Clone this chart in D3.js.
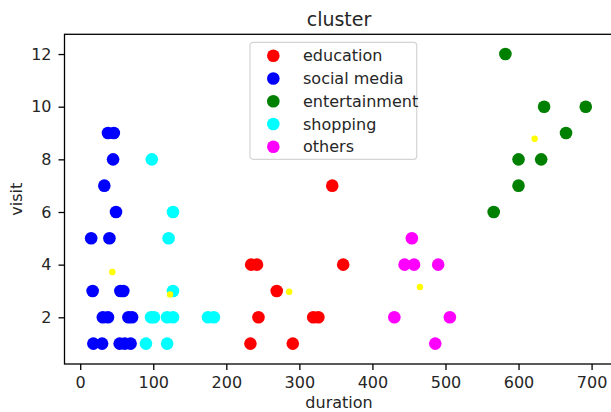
<!DOCTYPE html>
<html>
<head>
<meta charset="utf-8">
<script src="https://cdn.jsdelivr.net/npm/d3@7"></script>
<style>
  body { margin: 0; background: #fff; }
  svg { display: block; font-family: 'DejaVu Sans', sans-serif; }
</style>
</head>
<body>
<svg id="chart"></svg>
<script>
// cluster names and their colours, in legend order
const categories = ['education', 'social media', 'entertainment', 'shopping', 'others'];
const colors = ['#ff0000', '#0000ff', '#008000', '#00ffff', '#ff00ff'];

// [duration, visit]
const education = [[345, 7], [234, 4], [242, 4], [360, 4], [269, 3], [244, 2], [319, 2], [326, 2], [233, 1], [291, 1]];
const socialMedia = [[38, 9], [46, 9], [45, 8], [33, 7], [49, 6], [15, 5], [40, 5], [17, 3], [55, 3], [59, 3],
  [31, 2], [38, 2], [66, 2], [71, 2], [18, 1], [30, 1], [54, 1], [61, 1], [69, 1]];
const entertainment = [[582, 12], [635, 10], [692, 10], [665, 9], [600, 8], [631, 8], [600, 7], [566, 6]];
const shopping = [[98, 8], [127, 6], [121, 5], [127, 3], [97, 2], [101, 2], [119, 2], [127, 2], [175, 2], [183, 2], [90, 1], [119, 1]];
const others = [[454, 5], [444, 4], [457, 4], [490, 4], [430, 2], [506, 2], [486, 1]];
// cluster centres (yellow)
const centroids = [[286, 2.97], [44, 3.72], [622, 8.78], [123, 2.87], [465, 3.15]];

const xTicks = [0, 100, 200, 300, 400, 500, 600, 700];
const yTicks = [2, 4, 6, 8, 10, 12];

const clusters = [education, socialMedia, entertainment, shopping, others];

const width = 611;
const height = 412;
const margin = { top: 34.3, left: 64.5, bottom: 48 };
const innerWidth = 549;
const innerHeight = height - margin.top - margin.bottom;

const svg = d3.select('#chart').attr('width', width).attr('height', height);

const body = svg.append('g')
  .attr('transform', 'translate(' + margin.left + ',' + margin.top + ')');

const xScale = d3.scaleLinear().domain([-21.5, 730]).range([0, innerWidth]);
const yScale = d3.scaleLinear().domain([0.226, 12.75]).range([innerHeight, 0]);

// points
clusters.forEach((pts, i) => {
  body.append('g')
    .selectAll('circle')
    .data(pts)
    .enter()
    .append('circle')
    .attr('cx', d => xScale(d[0]))
    .attr('cy', d => yScale(d[1]))
    .attr('r', 6.3)
    .attr('fill', colors[i]);
});

body.append('g')
  .selectAll('circle')
  .data(centroids)
  .enter()
  .append('circle')
  .attr('cx', d => xScale(d[0]))
  .attr('cy', d => yScale(d[1]))
  .attr('r', 3.2)
  .attr('fill', '#ffff00');

// axes
const xAxis = d3.axisBottom(xScale).tickValues(xTicks).tickSize(6).tickPadding(6.5);
const yAxis = d3.axisLeft(yScale).tickValues(yTicks).tickSize(6).tickPadding(7);

const gx = body.append('g')
  .attr('transform', 'translate(0,' + innerHeight + ')')
  .call(xAxis);
const gy = body.append('g').call(yAxis);

[gx, gy].forEach(g => {
  g.select('.domain').remove();
  g.selectAll('.tick line').attr('stroke', '#000').attr('stroke-width', 1.3);
  g.selectAll('.tick text')
    .attr('fill', '#262626')
    .attr('font-size', 16)
    .attr('font-family', 'DejaVu Sans, sans-serif');
});

// frame
body.append('rect')
  .attr('width', innerWidth)
  .attr('height', innerHeight)
  .attr('fill', 'none')
  .attr('stroke', '#000')
  .attr('stroke-width', 1.3);

// labels
svg.append('text')
  .attr('x', margin.left + innerWidth / 2)
  .attr('y', 26)
  .attr('text-anchor', 'middle')
  .attr('font-size', 19)
  .attr('fill', '#262626')
  .text('cluster');

svg.append('text')
  .attr('x', margin.left + innerWidth / 2)
  .attr('y', 408)
  .attr('text-anchor', 'middle')
  .attr('font-size', 16)
  .attr('fill', '#262626')
  .text('duration');

svg.append('text')
  .attr('transform', 'translate(21.5,' + (margin.top + innerHeight / 2) + ') rotate(-90)')
  .attr('text-anchor', 'middle')
  .attr('font-size', 16)
  .attr('fill', '#262626')
  .text('visit');

// legend
const legend = svg.append('g').attr('transform', 'translate(250,42.3)');
legend.append('rect')
  .attr('width', 166.7)
  .attr('height', 117)
  .attr('rx', 3)
  .attr('fill', 'rgba(255,255,255,0.8)')
  .attr('stroke', '#d4d4d4')
  .attr('stroke-width', 1.2);

const rows = legend.selectAll('.row')
  .data(categories)
  .enter()
  .append('g')
  .attr('class', 'row')
  .attr('transform', (d, i) => 'translate(0,' + (13.4 + i * 22.75) + ')');
rows.append('circle')
  .attr('cx', 23.3)
  .attr('r', 6.3)
  .attr('fill', (d, i) => colors[i]);
rows.append('text')
  .attr('x', 53)
  .attr('y', 5.6)
  .attr('font-size', 16)
  .attr('fill', '#262626')
  .text(d => d);
</script>
</body>
</html>
